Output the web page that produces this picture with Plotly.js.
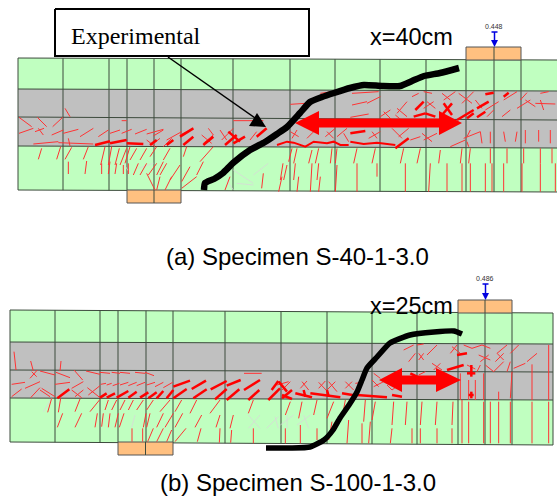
<!DOCTYPE html>
<html><head><meta charset="utf-8">
<script src="https://cdn.plot.ly/plotly-3.0.1.min.js"></script>
<style>html,body{margin:0;padding:0;background:#fff}#c{width:557px;height:497px}</style>
</head><body><div id="c"></div>
<script>
// Specimen A geometry, read in image pixels
const aMeshX=[18,63,109,127,154,181,233,290,335,380,426,466,494,521];
const aEnds=[18,557];
const aLeftY=[58,89,117,146,190];
const aRightY=[60,91,120,148,192];
const aPlateBottom=[127,181,190,203];
const aPlateTop=[466,521,47,60];
// Specimen B geometry
const bMeshX=[10,55,100,118,146,173,225,281,327,372,417,458,485,512,553];
const bEnds=[10,553];
const bLeftY=[310,342,370,398,442];
const bRightY=[313,344,372,400,445];
const bPlateBottom=[118,173,442,455];
const bPlateTop=[458,512,300,313];
// Experimental crack curves
const aCurveX=[204,205,214,223,233,250,265,277,287,300,310,322,334,350,364,382,400,412,424,440,459];
const aCurveY=[190,183,179,173,163,150,142,134,127,113,102,97,93,88,85,86,86,81,76,73,68];
const bCurveX=[266,290,310,324,333,340,349,357,362,367,377,390,410,434,454,462];
const bCurveY=[448,448,447,440,430,418,405,392,380,368,357,343,335,332,331,334];
// Computed crack patterns, 1/3 px units per crop: x1,y1,x2,y2
const aThin1=[195,325,210,350,112,352,140,380,158,380,188,352,57,352,95,380,57,400,100,385,105,395,132,385,115,385,130,405,155,405,190,390,190,400,235,388,240,410,280,385,295,410,325,390,330,400,360,390,365,400,395,388,365,362,380,362,405,402,440,388,440,402,490,388,460,408,490,390,100,432,175,425,175,428,280,432,205,415,210,438,440,420,465,440,455,435,480,415,490,440,515,415,500,420,545,395,540,405,580,385,610,430,640,405,605,405,635,430,625,385,640,405,115,478,125,445,170,478,182,440,195,478,215,442,250,478,265,440,302,495,315,440,325,495,335,440,345,495,358,445,360,495,380,445,375,490,390,440,390,480,410,445,205,485,205,522,260,483,255,522,305,490,305,522,330,485,325,522,350,490,345,522,370,495,370,522,385,490,385,522,420,480,440,445,450,470,470,440,490,480,510,445,550,470,560,440,600,485,640,440,415,490,400,525,440,490,420,525,470,490,445,525,490,485,470,525,500,490,480,525,540,495,510,540,610,485,590,525,570,500,545,545,590,530,545,565,440,520,465,570,480,530,470,570,515,530,495,570,700,362,790,362,660,390,680,420,665,420,700,385,750,420,770,395,790,520,785,565,675,570,690,530];
const aBold1=[285,435,330,424,330,430,380,420,380,430,430,432,550,435,580,410,540,410,580,385,610,435,640,410,675,435,710,405,700,430,735,410,770,410,800,385,685,395,720,425,450,435,470,420,500,435,520,420];
const aGray1=[370,490,390,520,415,505,460,490,680,540,700,570,700,510,760,550,710,550,760,555,760,525,805,490];
const aThin2=[40,313,85,310,225,315,270,305,270,310,310,290,130,280,165,275,225,280,305,275,220,352,275,342,310,350,340,330,360,340,390,305,405,290,425,280,440,275,465,280,495,280,520,300,500,300,535,275,440,325,470,305,450,305,475,325,545,280,585,310,555,310,590,275,595,300,615,325,625,330,665,305,630,350,650,330,675,350,700,330,680,300,720,275,730,300,750,278,720,325,760,300,745,300,775,320,775,310,835,312,790,300,800,330,790,280,815,275,320,335,345,360,355,345,385,370,360,325,390,350,40,395,65,410,60,390,45,415,90,415,120,385,145,410,175,385,150,395,170,415,180,410,210,385,200,400,215,425,285,395,300,415,275,415,310,395,345,385,375,415,365,410,395,385,400,420,430,410,435,400,465,425,440,420,480,400,520,440,565,420,560,415,610,395,570,410,580,390,610,395,615,430,640,395,640,430,680,395,685,425,720,395,715,425,745,390,745,430,785,390,785,425,820,390,820,430,570,425,575,440,45,445,35,485,60,445,50,490,105,450,95,490,125,445,115,490,165,445,160,490,180,445,175,490,240,445,230,490,295,445,285,490,380,445,370,490,430,445,420,490,490,450,485,490,555,445,550,490,580,445,575,490,640,445,640,490,690,445,690,490,740,445,740,490,790,445,790,490,825,445,825,490,18,490,10,540,30,495,20,540,55,490,50,540,105,490,100,575,125,490,120,540,180,495,175,575,240,490,240,575,300,490,300,530,385,490,385,575,460,490,455,575,510,490,510,575,555,490,555,575,580,490,580,575,625,490,625,575,645,490,645,575,680,490,680,575,735,490,735,575,790,490,790,575,835,490,835,575,15,530,5,575,65,530,60,575,130,530,125,575];
const aBold2=[415,330,440,305,495,345,525,310,500,310,525,345,625,283,650,278,680,290,695,278,600,325,635,305,540,360,590,330,570,355,590,340,600,352,625,335,220,400,265,393,355,445,395,415,410,350,445,340,445,340,475,350];
const aJag2=[0,435,30,425,50,428,85,440,110,425,150,430,170,425,190,435,215,435];
const aJag3=[220,425,260,432,300,428,355,435];
const bThin3=[42,260,48,315,92,288,100,318,183,288,180,318,90,340,112,315,95,320,110,335,120,318,165,330,168,322,210,338,222,315,248,345,258,318,300,328,300,322,330,325,335,322,360,325,360,322,390,325,405,322,435,325,435,322,462,332,35,358,75,352,75,370,120,350,35,395,65,372,92,398,120,368,125,370,165,395,150,395,120,375,165,358,210,352,215,370,250,350,215,375,245,398,225,395,250,375,262,368,300,398,265,390,300,362,302,358,318,355,320,360,335,355,338,362,358,355,360,360,385,352,385,362,410,352,410,362,435,352,440,360,465,352,465,365,490,352,490,368,518,352,732,325,785,325,155,400,143,442,182,400,175,442,240,402,225,440,300,403,270,440,325,405,315,435,350,405,335,435,375,405,360,435,400,405,385,435,430,405,410,435,460,405,440,435,510,405,480,440,545,405,525,440,590,405,570,445,660,405,630,445,760,405,745,445,188,445,172,487,245,445,225,487,292,445,285,487,310,445,305,485,330,445,325,487,355,445,345,487,372,445,358,487,438,445,430,487,450,445,440,487,490,445,470,487,520,445,495,487,548,445,525,487,605,450,585,487,660,450,648,487,700,450,690,490,396,490,396,530,428,490,428,530,460,490,443,530,490,490,470,530,515,495,500,530,558,490,525,530,603,490,592,530,660,490,658,533,695,495,692,533,760,490,760,535];
const bBold3=[172,400,208,373,300,398,320,385,320,398,345,385,350,398,385,378,385,398,410,380,420,398,445,382,445,400,470,382,470,400,490,378,500,400,520,375,520,400,560,372,520,365,570,347,575,372,618,347,580,400,620,373,632,373,680,348,680,362,722,345,645,403,680,372,680,405,718,373,732,375,780,345,745,405,778,375,815,375,835,348,805,405,840,370];
const bGray3=[745,450,780,490,780,450,745,490,800,490,835,455,825,455,835,490,405,450,395,487,130,440,155,400];
const bThin4=[380,255,410,240,420,240,440,237,395,290,415,265,425,265,440,285,450,270,480,240,425,285,440,265,520,265,540,240,525,245,550,265,560,240,585,250,585,250,615,240,615,240,640,250,690,240,660,265,700,265,725,240,750,290,780,265,710,310,745,295,605,270,640,285,635,270,610,290,655,290,680,265,680,285,660,265,650,320,680,290,690,320,700,290,465,295,495,315,470,315,490,295,425,330,445,320,570,300,595,312,600,320,610,300,625,300,650,320,765,298,765,405,815,240,815,405,705,320,700,400,665,380,665,405,620,325,620,405,550,325,550,405,575,345,575,405,595,345,595,405,0,360,35,350,15,375,40,350,70,370,90,348,75,350,95,375,125,370,145,348,125,352,150,378,150,375,175,350,155,350,180,380,205,370,225,350,205,350,230,375,235,355,255,352,290,325,310,340,285,345,305,365,290,365,320,350,330,360,345,375,345,375,365,360,40,410,25,450,75,410,65,460,120,405,110,450,170,410,150,460,165,470,155,525,205,405,195,460,215,465,210,535,265,405,260,470,255,475,255,535,295,410,285,465,280,470,275,535,350,410,345,480,345,490,340,535,390,410,385,480,405,490,405,535,435,410,430,480,430,490,430,535,480,410,475,480,480,490,480,535,528,410,525,480,525,490,525,535,555,405,555,535,575,410,575,535,620,410,620,535,640,410,640,535,665,410,665,535,700,410,700,535,765,410,765,535,815,410,815,535,25,490,25,535,70,480,70,535,120,490,120,525];
const bBold4=[540,270,570,265,400,325,420,335,510,315,560,300,570,325,595,325,583,300,583,335,575,390,590,390,583,380,583,400,5,350,30,380,15,400,45,375,55,385,105,397,100,385,190,397,195,385,240,392,240,390,330,397,345,390,375,395,15,390,45,402,80,375,85,395,150,375,155,395];
const bGray4=[10,480,50,450,30,450,30,490,60,480,100,450,80,450,95,490];
// Double arrows: left tip, head base, right base, right tip, centre y, half-shaft, half-head
const aArrow=[295,319,439,462,123,4.5,12];
const bArrow=[379,402,436,461,380,4.5,12];
// Load marks
const loadValues=["0.448","0.486"];
const loadX=[494.5,485.5];
const loadTopY=[32,284];
const loadEndY=[47,300];
const calloutBox=[55,309,9,56];
const calloutLeaderX=[168,258];
const calloutLeaderY=[57,120];
const calloutHeadX=[266,257,249,266];
const calloutHeadY=[127,113,126,127];

const GREEN='#C0FFC0',GRAY='#C0C0C0',ORANGE='#FFC080',MESH='#3c4a3c';
const traces=[];
function poly(x,y,fill,line,w){traces.push({type:'scatter',mode:line?'lines':'none',x:x,y:y,fill:'toself',fillcolor:fill,line:{color:line||fill,width:w||0},hoverinfo:'skip'});}
function lines(x,y,color,w,smooth){const l={color:color,width:w};if(smooth){l.shape='spline';l.smoothing=0.5;}traces.push({type:'scatter',mode:'lines',x:x,y:y,line:l,connectgaps:false,hoverinfo:'skip'});}
function segs(a,ox,oy,color,w){const x=[],y=[];for(let i=0;i<a.length;i+=4){x.push(a[i]/3+ox,a[i+2]/3+ox,null);y.push(a[i+1]/3+oy,a[i+3]/3+oy,null);}lines(x,y,color,w);}
function chain(a,ox,oy,color,w){const x=[],y=[];for(let i=0;i<a.length;i+=2){x.push(a[i]/3+ox);y.push(a[i+1]/3+oy);}lines(x,y,color,w);}
function rect(r,fill,line,w){poly([r[0],r[1],r[1],r[0],r[0]],[r[2],r[2],r[3],r[3],r[2]],fill,line,w);}
function beam(mesh,ends,L,R){
  const x0=ends[0],x1=ends[1];
  poly([x0,x1,x1,x0,x0],[L[0],R[0],R[4],L[4],L[0]],GREEN);
  poly([x0,x1,x1,x0,x0],[L[1],R[1],R[3],L[3],L[1]],GRAY);
  const hx=[],hy=[];
  for(let i=0;i<L.length;i++){hx.push(x0,x1,null);hy.push(L[i],R[i],null);}
  lines(hx,hy,MESH,1);
  const vx=[],vy=[];
  mesh.forEach(m=>{const t=(m-x0)/(x1-x0);vx.push(m,m,null);vy.push(L[0]+(R[0]-L[0])*t,L[4]+(R[4]-L[4])*t,null);});
  lines(vx,vy,MESH,1);
}
function dbl(a){const [t0,b0,b1,t1,c,s,h]=a;poly([t0,b0,b0,b1,b1,t1,b1,b1,b0,b0,t0],[c,c-h,c-s,c-s,c-h,c,c+h,c+s,c+s,c+h,c],'#FF0000');}
function load(i){const x=loadX[i];lines([x,x,null,x-3,x+3],[loadTopY[i],loadEndY[i]-5,null,loadTopY[i],loadTopY[i]],'#0000E0',1.5);poly([x-3.5,x+3.5,x,x-3.5],[loadEndY[i]-7,loadEndY[i]-7,loadEndY[i],loadEndY[i]-7],'#0000E0');}

beam(aMeshX,aEnds,aLeftY,aRightY);
rect(aPlateBottom,ORANGE,'#555',1);rect(aPlateTop,ORANGE,'#555',1);
segs(aGray1,0,0,'#d8d8d8',0.8);
segs(aThin1,0,0,'#F33',1);segs(aThin2,277,0,'#F33',1);
segs(aBold1,0,0,'#FF0000',2.5);segs(aBold2,277,0,'#FF0000',2.5);
chain(aJag2,277,0,'#FF0000',2);chain(aJag3,277,0,'#FF0000',2);
beam(bMeshX,bEnds,bLeftY,bRightY);
rect(bPlateBottom,ORANGE,'#555',1);rect(bPlateTop,ORANGE,'#555',1);
lines([145.5,145.5],[442,455],MESH,1);lines([154,154],[190,203],MESH,1);
lines([494,494],[47,60],MESH,1);lines([485,485],[300,313],MESH,1);
segs(bGray3,0,265,'#d8d8d8',0.8);segs(bGray4,277,265,'#d8d8d8',0.8);
segs(bThin3,0,265,'#F33',1);segs(bThin4,277,265,'#F33',1);
segs(bBold3,0,265,'#FF0000',2.5);segs(bBold4,277,265,'#FF0000',2.5);
dbl(aArrow);dbl(bArrow);
lines(aCurveX,aCurveY,'#000',6.5,true);lines(bCurveX,bCurveY,'#000',5.5,true);
rect(calloutBox,'#FFFFFF','#000',2);
lines(calloutLeaderX,calloutLeaderY,'#000',1.5);poly(calloutHeadX,calloutHeadY,'#000');
load(0);load(1);

function txt(x,y,t,size,fam,color,anchor){return {x:x,y:y,xref:'x',yref:'y',text:t,showarrow:false,xanchor:anchor||'center',yanchor:'middle',font:{size:size,family:fam,color:color||'#000'}};}
const SANS='"Liberation Sans",Arial,sans-serif',SERIF='"Liberation Serif","Times New Roman",serif';
Plotly.newPlot('c',traces,{
  width:557,height:497,margin:{l:0,r:0,t:0,b:0},showlegend:false,
  paper_bgcolor:'#fff',plot_bgcolor:'#fff',
  xaxis:{range:[0,557],visible:false,fixedrange:true},
  yaxis:{range:[497,0],visible:false,fixedrange:true},
  annotations:[
    txt(69,36,'Experimental',24,SERIF,'#000','left'),
    txt(411,37,'x=40cm',23.5,SANS),
    txt(411,306,'x=25cm',23.5,SANS),
    txt(loadX[0]-0.5,26,loadValues[0],7,SANS,'#333'),
    txt(loadX[1]-0.5,278,loadValues[1],7,SANS,'#333'),
    txt(297.5,256,'(a) Specimen S-40-1-3.0',24,SANS),
    txt(297.5,482,'(b) Specimen S-100-1-3.0',24,SANS)
  ]
},{staticPlot:true,displayModeBar:false});
</script></body></html>
